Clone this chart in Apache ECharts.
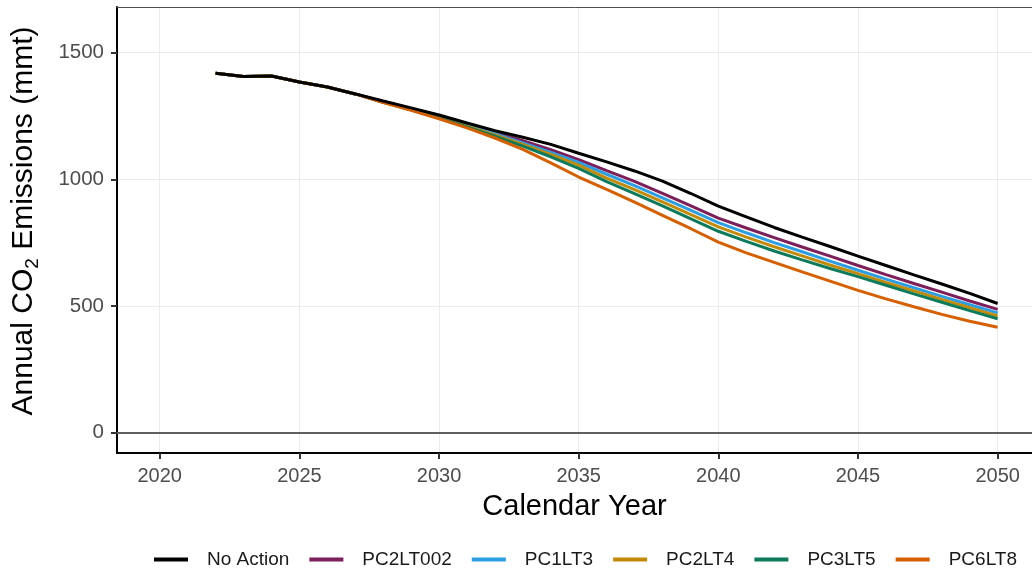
<!DOCTYPE html>
<html>
<head>
<meta charset="utf-8">
<script src="https://cdn.jsdelivr.net/npm/echarts@6/dist/echarts.min.js"></script>
<style>
  html, body { margin: 0; padding: 0; background: #fff; }
  #chart { width: 1032px; height: 573px; }
</style>
</head>
<body>
<div id="chart"></div>
<script>
// years on the x axis
var years = [2022, 2023, 2024, 2025, 2026, 2027, 2028, 2029, 2030, 2031, 2032, 2033, 2034, 2035,
             2036, 2037, 2038, 2039, 2040, 2041, 2042, 2043, 2044, 2045, 2046, 2047, 2048, 2049, 2050];

// annual CO2 emissions (mmt)
var noAction = [1419, 1406, 1408, 1384, 1364, 1337, 1309, 1282, 1254, 1222, 1192, 1166, 1138, 1103,
                1069, 1033, 993, 945, 894, 852, 810, 772, 735, 697, 660, 623, 587, 550, 510];
var pc2lt002 = [1419, 1406, 1408, 1384, 1364, 1337, 1307, 1278, 1249, 1217, 1185, 1152, 1117, 1078,
                1034, 992, 945, 896, 847, 808, 770, 733, 697, 660, 624, 589, 555, 520, 487];
var pc1lt3 = [1419, 1406, 1408, 1384, 1364, 1337, 1306, 1276, 1246, 1213, 1180, 1144, 1106, 1067,
              1020, 975, 927, 878, 829, 789, 750, 714, 677, 641, 606, 572, 538, 505, 473];
var pc2lt4 = [1419, 1406, 1408, 1384, 1364, 1337, 1305, 1275, 1244, 1210, 1175, 1138, 1098, 1056,
              1005, 959, 911, 862, 812, 772, 734, 698, 662, 628, 593, 560, 526, 493, 461];
var pc3lt5 = [1419, 1406, 1408, 1384, 1364, 1337, 1304, 1274, 1242, 1207, 1170, 1131, 1089, 1043,
              991, 944, 895, 845, 795, 755, 717, 682, 648, 616, 582, 548, 515, 482, 450];
var pc6lt8 = [1419, 1406, 1408, 1384, 1364, 1337, 1303, 1272, 1239, 1203, 1163, 1118, 1065, 1009,
              960, 910, 858, 806, 752, 710, 672, 635, 598, 562, 528, 497, 467, 440, 416];

var scenarioNames = ['No Action', 'PC2LT002', 'PC1LT3', 'PC2LT4', 'PC3LT5', 'PC6LT8'];
var scenarioData = [noAction, pc2lt002, pc1lt3, pc2lt4, pc3lt5, pc6lt8];
var scenarioColors = ['#000000', '#7d1f5a', '#2b9de2', '#c38a08', '#0b7b5b', '#d65f00'];

var fontFam = '"Liberation Sans", Arial, sans-serif';

function pairs(vals) {
    return years.map(function (y, i) { return [y, vals[i]]; });
}

var myChart = echarts.init(document.getElementById('chart'), null, { renderer: 'canvas' });

var series = [];
// coloured scenarios first, No Action drawn last so it sits on top
for (var i = 1; i < scenarioNames.length; i++) {
    series.push({
        name: scenarioNames[i],
        type: 'line',
        symbol: 'none',
        color: scenarioColors[i],
        lineStyle: { width: 3, color: scenarioColors[i] },
        data: pairs(scenarioData[i])
    });
}
series.push({
    name: scenarioNames[0],
    type: 'line',
    symbol: 'none',
    color: scenarioColors[0],
    lineStyle: { width: 3, color: scenarioColors[0] },
    z: 3,
    markLine: { //zero reference line
        silent: true,
        symbol: 'none',
        label: { show: false },
        lineStyle: { color: '#5f5f5f', width: 2, type: 'solid' },
        data: [{ yAxis: 0 }]
    },
    data: pairs(scenarioData[0])
});

var option = {
    backgroundColor: '#ffffff',
    animation: false,
    textStyle: { fontFamily: fontFam },
    grid: {
        left: 117,
        right: 0,
        top: 7,
        bottom: 120,
        outerBoundsMode: 'none'
    },
    legend: {
        data: scenarioNames,
        left: 154,
        top: 550,
        width: 878,
        padding: 0,
        icon: 'rect',
        itemWidth: 34,
        itemHeight: 4,
        itemGap: 20,
        textStyle: {
            fontFamily: fontFam,
            fontSize: 19,
            color: '#1a1a1a',
            padding: [0, 0, 0, 14]
        }
    },
    xAxis: [{
        type: 'value',
        min: 2018.47,
        max: 2051.23,
        splitNumber: 6,
        name: 'Calendar Year',
        nameLocation: 'middle',
        nameGap: 39,
        nameTextStyle: { fontFamily: fontFam, fontSize: 29, color: '#000' },
        axisLine: { show: true, onZero: false, lineStyle: { color: '#000', width: 2 } },
        axisTick: { show: true, length: 6, lineStyle: { color: '#333', width: 2 } },
        axisLabel: {
            show: true,
            margin: 13,
            fontSize: 20,
            color: '#4d4d4d',
            showMinLabel: false,
            showMaxLabel: false,
            formatter: function (v) { return String(Math.round(v)); }
        },
        splitLine: { show: true, lineStyle: { color: '#ebebeb', width: 1 } }
    }, {
        type: 'value',
        position: 'top',
        min: 2018.47,
        max: 2051.23,
        axisLine: { show: true, onZero: false, lineStyle: { color: '#4d4d4d', width: 1 } },
        axisTick: { show: false },
        axisLabel: { show: false },
        splitLine: { show: false }
    }],
    yAxis: {
        type: 'value',
        min: -80,
        max: 1680,
        splitNumber: 4,
        name: 'Annual CO{sub|2} Emissions (mmt)',
        nameLocation: 'middle',
        nameGap: 75,
        nameTextStyle: {
            fontFamily: fontFam,
            fontSize: 30,
            color: '#000',
            lineHeight: 36,
            padding: [0, 0, 0, 18],
            rich: {
                sub: { fontSize: 19, lineHeight: 36, verticalAlign: 'bottom', color: '#000' }
            }
        },
        axisLine: { show: true, onZero: false, lineStyle: { color: '#000', width: 2 } },
        axisTick: { show: true, length: 6, lineStyle: { color: '#333', width: 2 } },
        axisLabel: {
            show: true,
            margin: 13,
            fontSize: 20.5,
            color: '#4d4d4d',
            showMinLabel: false,
            showMaxLabel: false,
            formatter: function (v) { return String(v); }
        },
        splitLine: { show: true, lineStyle: { color: '#ebebeb', width: 1 } }
    },
    series: series
};

myChart.setOption(option);
</script>
</body>
</html>
